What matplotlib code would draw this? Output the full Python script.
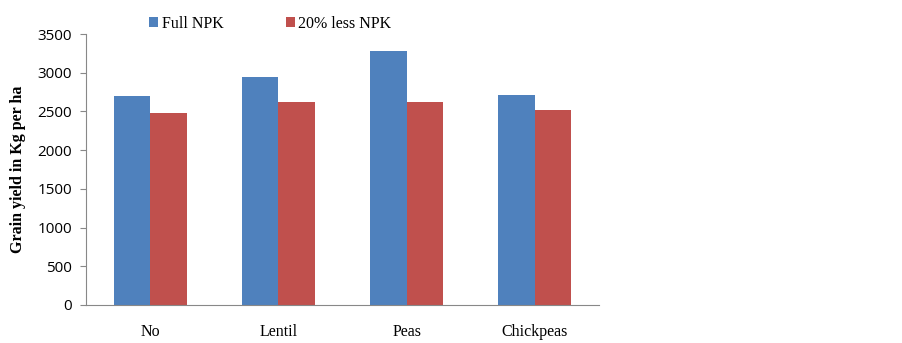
import matplotlib.pyplot as plt
import numpy as np

categories = ['No', 'Lentil', 'Peas', 'Chickpeas']
full_npk = [2705, 2940, 3285, 2715]
less_npk = [2475, 2620, 2620, 2518]
series_names = ['Full NPK', '20% less NPK']
yticks = [0, 500, 1000, 1500, 2000, 2500, 3000, 3500]

fig = plt.figure(figsize=(9.03, 3.43), dpi=100)
ax = fig.add_axes([86 / 903, 38 / 343, 513 / 903, 271 / 343])

x = np.arange(len(categories))
w = 0.285
ax.bar(x - w / 2, full_npk, w, color='#4F81BD', label=series_names[0])
ax.bar(x + w / 2, less_npk, w, color='#C0504D', label=series_names[1])

ax.set_xlim(-0.5, len(categories) - 0.5)
ax.set_ylim(0, 3500)
ax.set_yticks(yticks)
ax.set_yticklabels([str(t) for t in yticks], fontfamily='Open Sans', fontsize=11)
ax.set_xticks(x)
ax.set_xticklabels(categories, fontfamily='Liberation Serif', fontsize=11.5)
ax.tick_params(axis='x', length=0, pad=14)
ax.tick_params(axis='y', length=4.5, color='#888888', pad=5.5)

for s in ['top', 'right']:
    ax.spines[s].set_visible(False)
for s in ['left', 'bottom']:
    ax.spines[s].set_color('#888888')

ax.set_ylabel('Grain yield in Kg per ha', fontfamily='Liberation Serif',
              fontweight='bold', fontsize=11.5, labelpad=8)

ax.legend(loc='lower left', bbox_to_anchor=(0.11, 0.985), ncol=2, frameon=False,
          prop={'family': 'Liberation Serif', 'size': 11.5},
          handlelength=0.6, handleheight=0.6, handletextpad=0.2,
          columnspacing=3.9, borderaxespad=0)

fig.savefig('out.png', dpi=100)
